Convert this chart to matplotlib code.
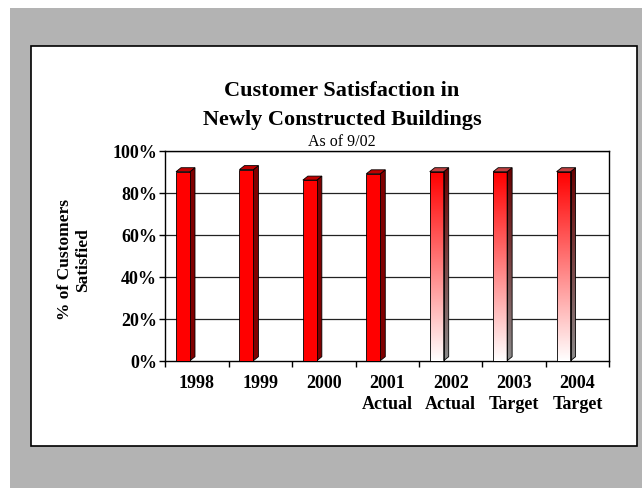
import numpy as np
import matplotlib
matplotlib.use("Agg")
import matplotlib.pyplot as plt
from matplotlib.patches import Rectangle, Polygon
from matplotlib.colors import LinearSegmentedColormap

# ---- data ----
categories = ["1998", "1999", "2000", "2001\nActual", "2002\nActual", "2003\nTarget", "2004\nTarget"]
values = [90, 91, 86, 89, 90, 90, 90]
gradient = [False, False, False, False, True, True, True]
yticks = [0, 20, 40, 60, 80, 100]
ytick_labels = ["0%", "20%", "40%", "60%", "80%", "100%"]
title_lines = ["Customer Satisfaction in", "Newly Constructed Buildings"]
subtitle = "As of 9/02"
ylabel = "% of Customers\nSatisfied"

W, H = 642, 489
fig = plt.figure(figsize=(W / 100, H / 100), dpi=100)
fig.patch.set_facecolor("white")

def fx(px):
    return px / W

def fy(py):
    return 1 - py / H

# gray background and white frame
fig.patches.append(Rectangle((fx(10), 0), 1 - fx(10), fy(9), transform=fig.transFigure,
                             facecolor="#b3b3b3", edgecolor="none", zorder=-3))
fig.patches.append(Rectangle((fx(31), fy(447)), fx(637) - fx(31), fy(47) - fy(447),
                             transform=fig.transFigure, facecolor="white",
                             edgecolor="black", linewidth=1.2, zorder=-2))

serif = "Liberation Serif"

ax = fig.add_axes([fx(165.3), fy(361.7), fx(609.3) - fx(165.3), fy(151.7) - fy(361.7)])
ax.set_facecolor("none")
ax.set_zorder(1)
ax.set_xlim(0, len(categories))
ax.set_ylim(0, 100)

# grid
for t in yticks[1:]:
    ax.axhline(t, color="#222222", lw=0.9, zorder=1)
for s in ["top", "right", "left", "bottom"]:
    ax.spines[s].set_color("black")
    ax.spines[s].set_linewidth(1.0)

ax.set_yticks(yticks)
ax.set_yticklabels(ytick_labels, fontfamily=serif, fontweight="bold", fontsize=13)
ax.tick_params(axis="y", direction="out", length=4, width=1, pad=2)

centers = np.arange(len(categories)) + 0.5
ax.set_xticks(centers)
ax.set_xticklabels(categories, fontfamily=serif, fontweight="bold", fontsize=13,
                   linespacing=1.35)
ax.tick_params(axis="x", which="major", length=0, pad=9.5)
ax.set_xticks(np.arange(len(categories) + 1), minor=True)
ax.tick_params(axis="x", which="minor", direction="out", length=4, width=1)

# 3D bar geometry (in data units)
bar_off = 0.169
bar_w = 0.22
dx = 0.079
dy = 1.9

red_white = LinearSegmentedColormap.from_list("rw", ["#ffffff", "#ff0000"])
side_grad = LinearSegmentedColormap.from_list("sg", ["#8a8a8a", "#6a0000"])
grad_img = np.linspace(0, 1, 256).reshape(-1, 1)

for i, (v, g) in enumerate(zip(values, gradient)):
    x0 = i + bar_off
    x1 = x0 + bar_w
    top = Polygon([(x0, v), (x1, v), (x1 + dx, v + dy), (x0 + dx, v + dy)], closed=True,
                  facecolor="#c04040" if g else "#c00000", edgecolor="black", lw=0.6, zorder=4)
    side = Polygon([(x1, 0), (x1 + dx, dy), (x1 + dx, v + dy), (x1, v)], closed=True,
                   facecolor="#800000", edgecolor="black", lw=0.6, zorder=4)
    if g:
        front = ax.bar(x0, v, width=bar_w, align="edge", color="none",
                       edgecolor="black", linewidth=0.6, zorder=5)[0]
        im = ax.imshow(grad_img, cmap=red_white, origin="lower", aspect="auto",
                       extent=(x0, x1, 0, v), zorder=3, interpolation="bilinear")
        im.set_clip_path(front)
        side.set_facecolor("none")
        ax.add_patch(side)
        im2 = ax.imshow(grad_img, cmap=side_grad, origin="lower", aspect="auto",
                        extent=(x1, x1 + dx, 0, v + dy), zorder=3, interpolation="bilinear")
        im2.set_clip_path(side)
    else:
        ax.bar(x0, v, width=bar_w, align="edge", color="#ff0000",
               edgecolor="black", linewidth=0.6, zorder=5)
        ax.add_patch(side)
    ax.add_patch(top)

ax.set_xlim(0, len(categories))
ax.set_ylim(0, 100)

# titles
fig.text(fx(342), fy(91), title_lines[0], fontfamily=serif, fontweight="bold",
         fontsize=16, ha="center", va="center")
fig.text(fx(342), fy(120), title_lines[1], fontfamily=serif, fontweight="bold",
         fontsize=16, ha="center", va="center")
fig.text(fx(342), fy(141.7), subtitle, fontfamily=serif, fontsize=11.5,
         ha="center", va="center")
fig.text(fx(74), fy(260), ylabel, fontfamily=serif, fontweight="bold", fontsize=12.5,
         ha="center", va="center", rotation=90, multialignment="center")

fig.savefig("out.png", dpi=100)
